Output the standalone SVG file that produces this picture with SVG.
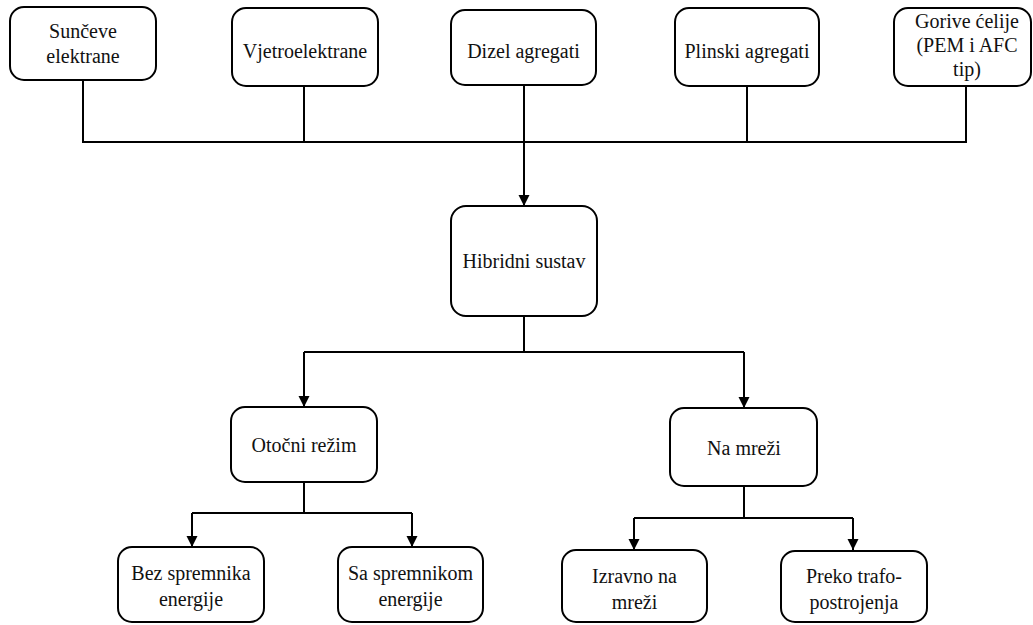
<svg xmlns="http://www.w3.org/2000/svg" width="1033" height="625" viewBox="0 0 1033 625">
<defs>
<marker id="ah" markerUnits="userSpaceOnUse" markerWidth="12" markerHeight="12" refX="11" refY="5.5" orient="auto">
<path d="M0,0 L11,5.5 L0,11 z" fill="#000"/>
</marker>
</defs>
<rect width="1033" height="625" fill="#fff"/>
<g id="connectors" fill="none" stroke="#000" stroke-width="2">
<path d="M83,80 V142 H966 V86"/>
<path d="M304,86 V142"/>
<path d="M747,86 V142"/>
<path d="M524,85 V206" marker-end="url(#ah)"/>
<path d="M524,316 V352"/>
<path d="M304,352 H744"/>
<path d="M304,352 V407" marker-end="url(#ah)"/>
<path d="M744,352 V408" marker-end="url(#ah)"/>
<path d="M304,482 V513"/>
<path d="M192,513 H412"/>
<path d="M192,513 V547" marker-end="url(#ah)"/>
<path d="M412,513 V547" marker-end="url(#ah)"/>
<path d="M744,486 V518"/>
<path d="M634,518 H853"/>
<path d="M634,518 V550" marker-end="url(#ah)"/>
<path d="M853,518 V550" marker-end="url(#ah)"/>
</g>
<g id="n1"><rect x="10" y="7" width="146" height="73" rx="14" fill="#fff" stroke="#000" stroke-width="2"/><text font-family="Liberation Serif" font-size="20" text-anchor="middle" fill="#111" x="83" y="38">Sunčeve</text><text font-family="Liberation Serif" font-size="20" text-anchor="middle" fill="#111" x="83" y="63">elektrane</text></g>
<g id="n2"><rect x="232" y="8" width="146" height="78" rx="14" fill="#fff" stroke="#000" stroke-width="2"/><text font-family="Liberation Serif" font-size="20" text-anchor="middle" fill="#111" x="305" y="58">Vjetroelektrane</text></g>
<g id="n3"><rect x="451" y="10" width="145" height="75" rx="14" fill="#fff" stroke="#000" stroke-width="2"/><text font-family="Liberation Serif" font-size="20" text-anchor="middle" fill="#111" x="523.5" y="58">Dizel agregati</text></g>
<g id="n4"><rect x="675" y="8" width="144" height="78" rx="14" fill="#fff" stroke="#000" stroke-width="2"/><text font-family="Liberation Serif" font-size="20" text-anchor="middle" fill="#111" x="747" y="58">Plinski agregati</text></g>
<g id="n5"><rect x="894" y="8" width="137" height="78" rx="14" fill="#fff" stroke="#000" stroke-width="2"/><text font-family="Liberation Serif" font-size="20" text-anchor="middle" fill="#111" x="967" y="28">Gorive ćelije</text><text font-family="Liberation Serif" font-size="20" text-anchor="middle" fill="#111" x="967" y="52">(PEM i AFC</text><text font-family="Liberation Serif" font-size="20" text-anchor="middle" fill="#111" x="967" y="76">tip)</text></g>
<g id="n6"><rect x="451" y="206" width="146" height="110" rx="15" fill="#fff" stroke="#000" stroke-width="2"/><text font-family="Liberation Serif" font-size="20" text-anchor="middle" fill="#111" x="524" y="268">Hibridni sustav</text></g>
<g id="n7"><rect x="231" y="407" width="146" height="75" rx="14" fill="#fff" stroke="#000" stroke-width="2"/><text font-family="Liberation Serif" font-size="20" text-anchor="middle" fill="#111" x="304" y="452">Otočni režim</text></g>
<g id="n8"><rect x="670" y="408" width="147" height="78" rx="14" fill="#fff" stroke="#000" stroke-width="2"/><text font-family="Liberation Serif" font-size="20" text-anchor="middle" fill="#111" x="744" y="455">Na mreži</text></g>
<g id="n9"><rect x="118" y="547" width="146" height="75" rx="14" fill="#fff" stroke="#000" stroke-width="2"/><text font-family="Liberation Serif" font-size="20" text-anchor="middle" fill="#111" x="191" y="580">Bez spremnika</text><text font-family="Liberation Serif" font-size="20" text-anchor="middle" fill="#111" x="191" y="606">energije</text></g>
<g id="n10"><rect x="338" y="547" width="145" height="75" rx="14" fill="#fff" stroke="#000" stroke-width="2"/><text font-family="Liberation Serif" font-size="20" text-anchor="middle" fill="#111" x="410.5" y="580">Sa spremnikom</text><text font-family="Liberation Serif" font-size="20" text-anchor="middle" fill="#111" x="410.5" y="606">energije</text></g>
<g id="n11"><rect x="562" y="550" width="145" height="72" rx="14" fill="#fff" stroke="#000" stroke-width="2"/><text font-family="Liberation Serif" font-size="20" text-anchor="middle" fill="#111" x="634.5" y="583">Izravno na</text><text font-family="Liberation Serif" font-size="20" text-anchor="middle" fill="#111" x="634.5" y="609">mreži</text></g>
<g id="n12"><rect x="781" y="551" width="146" height="71" rx="14" fill="#fff" stroke="#000" stroke-width="2"/><text font-family="Liberation Serif" font-size="20" text-anchor="middle" fill="#111" x="854" y="583">Preko trafo-</text><text font-family="Liberation Serif" font-size="20" text-anchor="middle" fill="#111" x="854" y="609">postrojenja</text></g>
</svg>
